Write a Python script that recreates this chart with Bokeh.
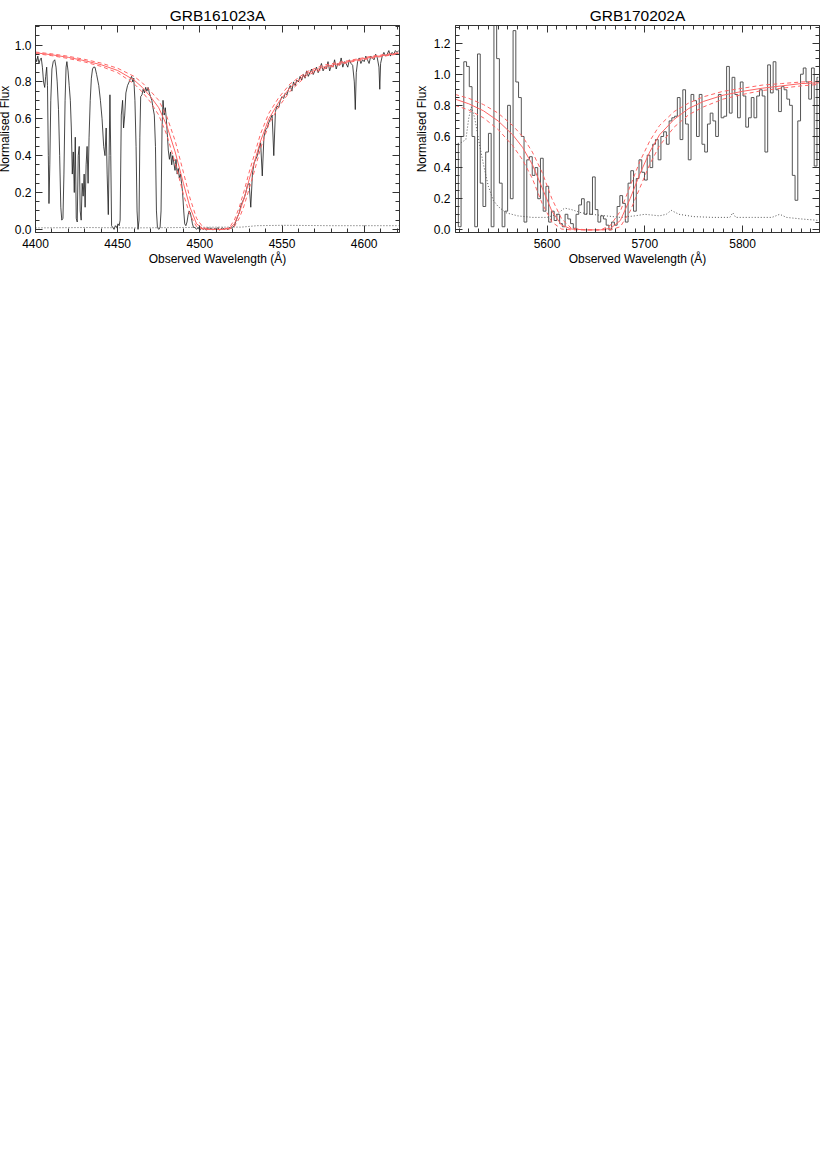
import numpy as np
from bokeh.plotting import figure
from bokeh.layouts import row
from bokeh.models import LinearAxis, SingleIntervalTicker, PrintfTickFormatter, Range1d
from bokeh.embed import file_html
from bokeh.resources import INLINE

# ---------------- GRB161023A (left panel) ----------------
wave_161023 = [
    4400.0, 4400.7, 4401.4, 4402.1, 4402.8, 4403.5, 4404.2, 4404.9, 4405.6, 4406.2,
    4406.8, 4407.3, 4407.8, 4408.2, 4408.7, 4409.3, 4410.0, 4410.8, 4411.7, 4412.5,
    4413.2, 4414.0, 4414.7, 4415.4, 4416.0, 4416.7, 4417.3, 4418.0, 4418.6, 4419.1,
    4419.8, 4420.5, 4421.2, 4421.8, 4422.4, 4423.0, 4423.6, 4424.2, 4424.8, 4425.4,
    4426.0, 4426.6, 4427.2, 4427.8, 4428.4, 4429.0, 4429.6, 4430.2, 4430.8, 4431.4,
    4432.0, 4432.6, 4433.3, 4434.0, 4434.7, 4435.3, 4436.2, 4437.2, 4438.5, 4439.5,
    4440.5, 4441.5, 4442.3, 4443.0, 4443.6, 4444.3, 4444.8, 4445.3, 4445.8, 4446.3,
    4447.0, 4447.8, 4448.6, 4449.4, 4450.2, 4450.9, 4451.5, 4452.2, 4453.0, 4453.6,
    4454.3, 4455.0, 4456.0, 4457.0, 4457.8, 4458.5, 4459.2, 4459.8, 4460.5, 4461.2,
    4461.8, 4462.4, 4463.0, 4463.5, 4464.0, 4464.8, 4465.5, 4466.3, 4467.0, 4467.8,
    4468.5, 4469.3, 4470.0, 4470.8, 4471.5, 4472.3, 4473.0, 4473.6, 4474.2, 4475.0,
    4475.8, 4476.4, 4477.0, 4477.6, 4478.3, 4479.0, 4479.6, 4480.2, 4480.8, 4481.5,
    4482.2, 4482.9, 4483.5, 4484.2, 4484.9, 4485.5, 4486.2, 4486.9, 4487.5, 4488.2,
    4488.9, 4489.5, 4490.2, 4490.8, 4491.5, 4492.2, 4492.9, 4493.5, 4494.2, 4494.9,
    4495.5, 4496.2,
    4497, 4498, 4499, 4500, 4501, 4502, 4503, 4504, 4505, 4506,
    4507, 4508, 4509, 4510, 4511, 4512, 4513, 4514, 4515, 4516,
    4517, 4518, 4519, 4520, 4521, 4522, 4523, 4524, 4525, 4526,
    4527, 4528, 4529, 4530, 4531, 4532, 4533, 4534, 4535, 4536,
    4537, 4538, 4539, 4540, 4541, 4542, 4543, 4544, 4545, 4546,
    4547, 4548, 4549, 4550, 4551, 4552, 4553, 4554, 4555, 4556,
    4557, 4558, 4559, 4560, 4561, 4562, 4563, 4564, 4565, 4566,
    4567, 4568, 4569, 4570, 4571, 4572, 4573, 4574, 4575, 4576,
    4577, 4578, 4579, 4580, 4581, 4582, 4583, 4584, 4585, 4586,
    4587, 4588, 4589, 4590, 4591, 4592, 4593, 4594, 4594.6, 4595.2,
    4596, 4597, 4598, 4599, 4600, 4601, 4602, 4603, 4604, 4605,
    4606, 4607, 4608, 4609, 4609.5, 4610, 4611, 4612, 4613, 4614,
    4615, 4616, 4617, 4618, 4619, 4620, 4621,
]
flux_161023 = [
    0.93, 0.91, 0.94, 0.90, 0.92, 0.93, 0.88, 0.80, 0.77, 0.83,
    0.88, 0.78, 0.40, 0.14, 0.35, 0.70, 0.87, 0.91, 0.92, 0.88,
    0.80, 0.65, 0.40, 0.12, 0.05, 0.06, 0.30, 0.70, 0.88, 0.91,
    0.86, 0.78, 0.70, 0.55, 0.30, 0.42, 0.20, 0.50, 0.06, 0.04,
    0.40, 0.45, 0.10, 0.05, 0.25, 0.18, 0.30, 0.12, 0.35, 0.45,
    0.25, 0.50, 0.70, 0.82, 0.87, 0.88, 0.88, 0.84, 0.78, 0.70,
    0.60, 0.45, 0.40, 0.55, 0.30, 0.08, 0.40, 0.73, 0.40, 0.02,
    0.01, 0.00, 0.02, 0.01, 0.03, 0.02, 0.05, 0.62, 0.70, 0.55,
    0.62, 0.74, 0.78, 0.80, 0.82, 0.83, 0.80, 0.82, 0.70, 0.45,
    0.10, 0.00, 0.05, 0.50, 0.72, 0.73, 0.76, 0.74, 0.77, 0.75,
    0.77, 0.74, 0.72, 0.70, 0.66, 0.62, 0.45, 0.10, 0.01, 0.00,
    0.01, 0.10, 0.55, 0.70, 0.62, 0.66, 0.60, 0.52, 0.43, 0.38,
    0.42, 0.35, 0.40, 0.36, 0.32, 0.38, 0.30, 0.33, 0.28, 0.30,
    0.25, 0.20, 0.10, 0.03, 0.02, 0.04, 0.08, 0.10, 0.09, 0.06,
    0.03, 0.01,
    0.010, 0.000, 0.010, -0.005, 0.010, 0.000, 0.005, -0.005, 0.010, 0.000,
    0.008, -0.004, 0.006, 0.000, 0.010, -0.005, 0.004, 0.008, 0.000, 0.006,
    -0.003, 0.010, 0.005, 0.012, 0.020, 0.045, 0.070, 0.090, 0.130, 0.150,
    0.17, 0.20, 0.24, 0.25, 0.12, 0.30, 0.36, 0.38, 0.40, 0.44,
    0.47, 0.29, 0.50, 0.54, 0.55, 0.58, 0.60, 0.62, 0.40, 0.64,
    0.67, 0.66, 0.70, 0.72, 0.71, 0.74, 0.73, 0.76, 0.78, 0.75,
    0.80, 0.78, 0.81, 0.80, 0.83, 0.81, 0.84, 0.82, 0.86, 0.83,
    0.85, 0.87, 0.84, 0.86, 0.88, 0.85, 0.87, 0.90, 0.86, 0.88,
    0.87, 0.91, 0.86, 0.89, 0.88, 0.92, 0.87, 0.90, 0.89, 0.93,
    0.88, 0.91, 0.90, 0.88, 0.92, 0.90, 0.89, 0.80, 0.65, 0.85,
    0.91, 0.93, 0.90, 0.92, 0.91, 0.94, 0.92, 0.90, 0.94, 0.93,
    0.92, 0.95, 0.93, 0.88, 0.76, 0.90, 0.94, 0.96, 0.94, 0.95,
    0.97, 0.94, 0.96, 0.95, 0.97, 0.96, 0.97,
]
err_wave_161023 = [4400, 4430, 4460, 4490, 4510, 4525, 4535, 4550, 4580, 4621]
err_flux_161023 = [0.008, 0.010, 0.008, 0.010, 0.012, 0.012, 0.020, 0.022, 0.020, 0.020]

model_wave_161023 = [4400, 4410, 4420, 4430, 4440, 4450, 4460, 4465, 4470, 4475,
                     4480, 4485, 4490, 4494, 4498, 4502, 4506, 4510, 4514, 4518,
                     4521, 4524, 4527, 4530, 4533, 4537, 4542, 4548, 4555, 4565,
                     4575, 4590, 4605, 4621]
model_mid_161023 = [0.958, 0.947, 0.933, 0.915, 0.893, 0.862, 0.810, 0.770, 0.720, 0.660,
                    0.560, 0.420, 0.250, 0.120, 0.030, 0.003, 0.000, 0.000, 0.000, 0.005,
                    0.030, 0.090, 0.170, 0.270, 0.360, 0.480, 0.600, 0.690, 0.770, 0.845,
                    0.880, 0.910, 0.935, 0.955]
model_hi_161023 = [0.962, 0.952, 0.939, 0.922, 0.902, 0.874, 0.830, 0.795, 0.750, 0.700,
                   0.610, 0.480, 0.310, 0.170, 0.060, 0.010, 0.000, 0.000, 0.000, 0.010,
                   0.050, 0.120, 0.210, 0.310, 0.400, 0.520, 0.630, 0.715, 0.790, 0.855,
                   0.890, 0.915, 0.940, 0.958]
model_lo_161023 = [0.954, 0.942, 0.927, 0.908, 0.884, 0.850, 0.790, 0.745, 0.690, 0.620,
                   0.510, 0.360, 0.190, 0.080, 0.015, 0.000, 0.000, 0.000, 0.000, 0.002,
                   0.015, 0.060, 0.130, 0.220, 0.310, 0.440, 0.570, 0.665, 0.750, 0.835,
                   0.870, 0.905, 0.930, 0.952]

# ---------------- GRB170202A (right panel) ----------------
bin_start_170202 = 5507.9
bin_width_170202 = 2.8
flux_170202 = [
    0.55, 0.02, 0.60, 1.08, 1.05, 0.92, 0.60, 0.02, 1.13, 0.30,
    0.15, 0.50, 0.62, 0.02, 1.40, 1.10, 0.30, 0.02, 0.12, 0.80,
    0.20, 1.28, 0.95, 0.85, 0.60, 0.05, 0.45, 0.47, 0.35, 0.40,
    0.20, 0.46, 0.12, 0.28, 0.05, 0.12, 0.06, 0.10, 0.04, 0.02,
    0.10, 0.07, 0.04, 0.01, 0.10, 0.16, 0.20, 0.10, 0.18, 0.10,
    0.34, 0.13, 0.05, 0.09, 0.07, 0.03, 0.00, 0.05, 0.03, 0.15,
    0.22, 0.17, 0.05, 0.30, 0.38, 0.12, 0.33, 0.45, 0.37, 0.32,
    0.48, 0.40, 0.55, 0.58, 0.45, 0.60, 0.63, 0.55, 0.70, 0.72,
    0.73, 0.85, 0.58, 0.90, 0.68, 0.45, 0.87, 0.83, 0.60, 0.87,
    0.55, 0.50, 0.68, 0.75, 0.70, 0.60, 0.87, 0.72, 0.73, 1.05,
    0.75, 0.98, 0.87, 0.72, 0.95, 0.86, 0.66, 0.72, 0.85, 0.72,
    0.86, 0.90, 0.86, 0.50, 1.06, 0.88, 1.08, 0.90, 0.76, 0.92,
    0.90, 0.84, 0.80, 0.35, 0.19, 0.70, 1.00, 1.04, 0.95, 0.84,
    1.04, 0.41, 0.98,
]
wave_170202 = [bin_start_170202 + bin_width_170202 * i for i in range(len(flux_170202))]

err_wave_170202 = [5506, 5512, 5517, 5520, 5522.5, 5526, 5530, 5535, 5540, 5545,
                   5550, 5558, 5570, 5585, 5600, 5610, 5618, 5625, 5635, 5645,
                   5660, 5675, 5690, 5700, 5715, 5722, 5727, 5735, 5750, 5770,
                   5787, 5790, 5793, 5810, 5830, 5838, 5845, 5860, 5879]
err_flux_170202 = [0.55, 0.56, 0.58, 0.72, 0.79, 0.72, 0.58, 0.42, 0.28, 0.19,
                   0.15, 0.11, 0.09, 0.08, 0.08, 0.10, 0.14, 0.13, 0.11, 0.10,
                   0.09, 0.08, 0.09, 0.10, 0.09, 0.10, 0.125, 0.10, 0.085, 0.08,
                   0.08, 0.11, 0.08, 0.08, 0.08, 0.10, 0.08, 0.07, 0.06]

model_wave_170202 = [5506, 5520, 5535, 5550, 5565, 5575, 5585, 5595, 5605, 5615,
                     5625, 5640, 5655, 5665, 5675, 5685, 5695, 5705, 5715, 5730,
                     5745, 5760, 5780, 5800, 5820, 5840, 5860, 5879]
model_mid_170202 = [0.84, 0.81, 0.765, 0.70, 0.61, 0.53, 0.42, 0.27, 0.12, 0.03,
                    0.005, 0.0, 0.0, 0.01, 0.06, 0.20, 0.36, 0.50, 0.61, 0.71,
                    0.78, 0.825, 0.865, 0.89, 0.91, 0.925, 0.94, 0.945]
model_hi_170202 = [0.87, 0.845, 0.805, 0.75, 0.67, 0.60, 0.50, 0.37, 0.20, 0.07,
                   0.01, 0.0, 0.0, 0.03, 0.12, 0.28, 0.44, 0.57, 0.67, 0.76,
                   0.815, 0.855, 0.89, 0.91, 0.93, 0.94, 0.95, 0.955]
model_lo_170202 = [0.80, 0.77, 0.72, 0.645, 0.54, 0.45, 0.33, 0.17, 0.05, 0.005,
                   0.0, 0.0, 0.0, 0.0, 0.02, 0.12, 0.27, 0.42, 0.54, 0.66,
                   0.74, 0.79, 0.84, 0.87, 0.895, 0.91, 0.925, 0.935]

FONT = "Liberation Sans"
AX_COL = "#333333"
RED = "#ff6464"


def style_axis(ax, labels=True):
    ax.major_tick_in = 7
    ax.major_tick_out = 0
    ax.minor_tick_in = 4
    ax.minor_tick_out = 0
    ax.axis_line_color = AX_COL
    ax.major_tick_line_color = AX_COL
    ax.minor_tick_line_color = AX_COL
    ax.major_label_text_font = FONT
    ax.major_label_text_font_size = "12px"
    ax.axis_label_text_font = FONT
    ax.axis_label_text_font_style = "normal"
    ax.axis_label_text_font_size = "12px"
    ax.axis_label_text_color = "black"
    if labels:
        ax.major_label_text_color = "black"
    else:
        ax.major_label_text_color = None
        ax.major_label_standoff = 0
        ax.axis_label = None


def make_fig(title, xr, yr, xint, xminor, width, bl, br, ytick_standoff, ylab_standoff):
    p = figure(width=width, height=270, x_range=Range1d(*xr), y_range=Range1d(*yr),
               output_backend="svg", toolbar_location=None,
               min_border_left=bl, min_border_right=br,
               min_border_top=25, min_border_bottom=38)
    p.title.text = title
    p.title.align = "center"
    p.title.text_font = FONT
    p.title.text_font_size = "15.5px"
    p.title.text_font_style = "normal"
    p.title.text_color = "black"
    p.title.standoff = 4
    p.xgrid.visible = False
    p.ygrid.visible = False
    p.outline_line_color = AX_COL
    p.background_fill_color = "white"
    p.border_fill_color = "white"

    p.xaxis.ticker = SingleIntervalTicker(interval=xint, num_minor_ticks=xminor)
    p.yaxis.ticker = SingleIntervalTicker(interval=0.2, num_minor_ticks=4)
    p.yaxis.formatter = PrintfTickFormatter(format="%.1f")
    p.xaxis.axis_label = "Observed Wavelength (Å)"
    p.yaxis.axis_label = "Normalised Flux"
    for ax in p.xaxis:
        style_axis(ax)
        ax.major_label_standoff = 6
        ax.axis_label_standoff = 1
    for ax in p.yaxis:
        style_axis(ax)
        ax.major_label_standoff = ytick_standoff
        ax.axis_label_standoff = ylab_standoff

    top = LinearAxis(ticker=SingleIntervalTicker(interval=xint, num_minor_ticks=xminor))
    style_axis(top, labels=False)
    p.add_layout(top, "above")
    right = LinearAxis(ticker=SingleIntervalTicker(interval=0.2, num_minor_ticks=4))
    style_axis(right, labels=False)
    p.add_layout(right, "right")
    return p


p1 = make_fig("GRB161023A", (4400, 4621.5), (-0.017, 1.106), 50, 5, 413, 38, 8, 4, 0)
p1.line(wave_161023, flux_161023, line_color="#1a1a1a", line_width=0.8)
p1.line(err_wave_161023, err_flux_161023, line_color="#555555", line_width=1, line_dash="1 2")
p1.line(model_wave_161023, model_mid_161023, line_color=RED, line_width=1)
p1.line(model_wave_161023, model_hi_161023, line_color=RED, line_width=1, line_dash="4 3")
p1.line(model_wave_161023, model_lo_161023, line_color=RED, line_width=1, line_dash="4 3")

p2 = make_fig("GRB170202A", (5506.4, 5878.7), (-0.017, 1.313), 100, 10, 415, 48, 3, 5, 2)
p2.step(wave_170202, flux_170202, mode="center", line_color="#555555", line_width=1)
p2.line(err_wave_170202, err_flux_170202, line_color="#555555", line_width=1, line_dash="1 2")
p2.line(model_wave_170202, model_mid_170202, line_color=RED, line_width=1)
p2.line(model_wave_170202, model_hi_170202, line_color=RED, line_width=1, line_dash="4 3")
p2.line(model_wave_170202, model_lo_170202, line_color=RED, line_width=1, line_dash="4 3")

layout = row(p1, p2, styles={"margin-left": "-6px"})

open("out.html", "w").write(file_html(layout, INLINE))
